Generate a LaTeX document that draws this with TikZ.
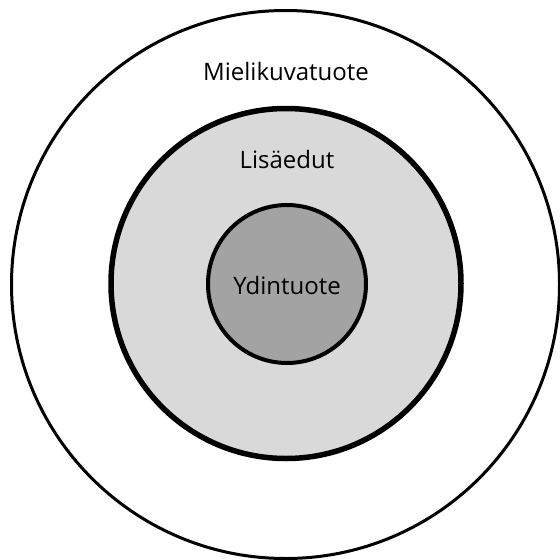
\documentclass[tikz,border=0pt]{standalone}
\usepackage{fontspec}
\setmainfont{Open Sans}
\definecolor{midgray}{HTML}{D9D9D9}
\definecolor{coregray}{HTML}{A3A3A3}
\tikzset{
  ring/.style={circle, draw=black, inner sep=0pt},
  lbl/.style={font=\fontsize{24}{28}\selectfont, text=black, inner sep=0pt}
}
\begin{document}
\begin{tikzpicture}[x=1pt,y=-1pt]
\useasboundingbox (0,0) rectangle (560,560);
\node[ring, line width=3pt, minimum size=548pt] (outer) at (285.5,284.5) {};
\node[ring, line width=5.5pt, fill=midgray, minimum size=350pt] (middle) at (286,283.5) {};
\node[ring, line width=4pt, fill=coregray, minimum size=158pt] (inner) at (287,284) {};
\node[lbl] (t1) at (286,71) {Mielikuvatuote};
\node[lbl] (t2) at (287,159) {Lisäedut};
\node[lbl] (t3) at (287,285) {Ydintuote};
\end{tikzpicture}
\end{document}
